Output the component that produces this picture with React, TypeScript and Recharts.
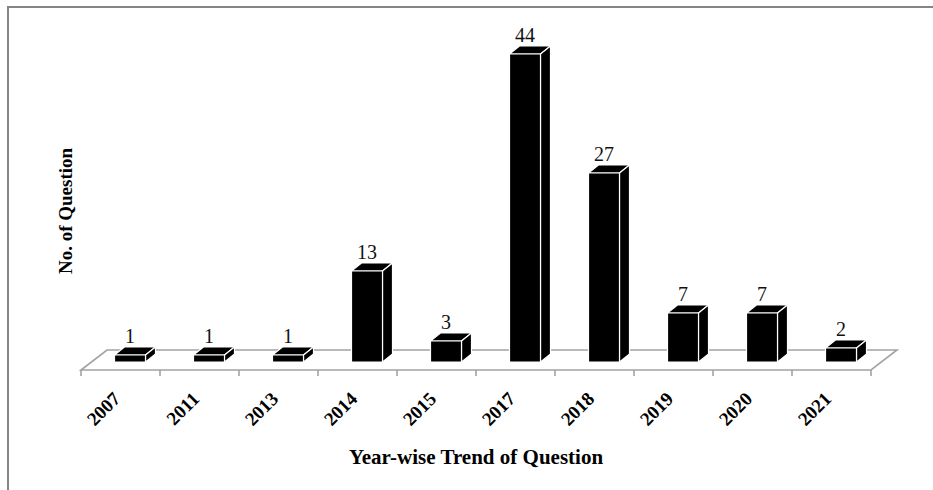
import React from "react";
import {
  BarChart,
  Bar,
  XAxis,
  YAxis,
  LabelList,
  Customized,
  usePlotArea,
} from "recharts";

const years = ["2007", "2011", "2013", "2014", "2015", "2017", "2018", "2019", "2020", "2021"];
const questionCounts = [1, 1, 1, 13, 3, 44, 27, 7, 7, 2];

const xTitle = "Year-wise Trend of Question";
const yTitle = "No. of Question";

const data = years.map((year, i) => ({ year, count: questionCounts[i] }));

const SERIF = '"Liberation Serif", "Times New Roman", serif';
const FLOOR = "#a3a3a3";

// 3D look: depth of each box and shift of the front face inside its band
const DEPTH_X = 10;
const DEPTH_Y = 8;
const FACE_SHIFT = 9.5;

// floor plane sits in front of / behind the bar bases
const FLOOR_FRONT = 8;
const FLOOR_BACK = 12;
const FLOOR_SLANT = 1.3;

const Box3D = (props: any) => {
  const { x, y, width, height } = props;
  const x0 = x + FACE_SHIFT;
  const x1 = x0 + width;
  const y1 = y + height;
  return (
    <g stroke="#ffffff" strokeWidth={1.2} strokeLinejoin="round">
      <polygon
        points={`${x0},${y} ${x0 + DEPTH_X},${y - DEPTH_Y} ${x1 + DEPTH_X},${y - DEPTH_Y} ${x1},${y}`}
        fill="#000"
      />
      <polygon
        points={`${x1},${y} ${x1 + DEPTH_X},${y - DEPTH_Y} ${x1 + DEPTH_X},${y1 - DEPTH_Y} ${x1},${y1}`}
        fill="#000"
      />
      <rect x={x0} y={y} width={width} height={height} fill="#000" />
    </g>
  );
};

const FloorPlane = () => {
  const area = usePlotArea();
  if (!area) return null;
  const left = area.x;
  const right = area.x + area.width;
  const base = area.y + area.height;
  const front = base + FLOOR_FRONT;
  const back = base - FLOOR_BACK;
  const slant = (FLOOR_FRONT + FLOOR_BACK) * FLOOR_SLANT;
  const step = area.width / years.length;
  return (
    <g stroke={FLOOR} strokeWidth={1.6} fill="none">
      <polygon
        points={`${left},${front} ${left + slant},${back} ${right + slant},${back} ${right},${front}`}
        fill="#fff"
      />
      {Array.from({ length: years.length + 1 }, (_, i) => (
        <line key={i} x1={left + i * step} y1={front} x2={left + i * step} y2={front + 6} />
      ))}
    </g>
  );
};

const YearTick = (props: any) => {
  const { x, y, payload } = props;
  const tx = x + 1;
  const ty = y + 30;
  return (
    <text
      x={tx}
      y={ty}
      textAnchor="end"
      transform={`rotate(-45, ${tx}, ${ty})`}
      fontFamily={SERIF}
      fontWeight="bold"
      fontSize={19}
      fill="#000"
    >
      {payload.value}
    </text>
  );
};

const ValueLabel = (props: any) => {
  const { x, y, width, value } = props;
  return (
    <text
      x={x + FACE_SHIFT + width / 2}
      y={y - 12}
      textAnchor="middle"
      fontFamily={SERIF}
      fontSize={20}
      fill="#111"
    >
      {value}
    </text>
  );
};

export default function App() {
  return (
    <div
      style={{
        position: "absolute",
        left: 0,
        top: 0,
        width: 933,
        height: 490,
        background: "#fff",
        overflow: "hidden",
      }}
    >
      <div
        style={{
          position: "absolute",
          left: 7,
          top: 6,
          right: 0,
          bottom: 0,
          borderTop: "2px solid #858585",
          borderLeft: "2px solid #858585",
        }}
      />
      <BarChart
        width={933}
        height={490}
        data={data}
        margin={{ top: 12, right: 62, left: 81, bottom: 68 }}
        barSize={31}
        style={{ position: "absolute", left: 0, top: 0 }}
      >
        <Customized component={FloorPlane} />
        <XAxis
          dataKey="year"
          axisLine={false}
          tickLine={false}
          height={60}
          interval={0}
          tick={<YearTick />}
        />
        <YAxis hide domain={[0, 50]} />
        <Bar dataKey="count" shape={<Box3D />} isAnimationActive={false}>
          <LabelList dataKey="count" content={<ValueLabel />} />
        </Bar>
        <text
          x={476}
          y={464}
          textAnchor="middle"
          fontFamily={SERIF}
          fontWeight="bold"
          fontSize={21}
          fill="#000"
        >
          {xTitle}
        </text>
        <text
          x={72}
          y={211}
          textAnchor="middle"
          transform="rotate(-90, 72, 211)"
          fontFamily={SERIF}
          fontWeight="bold"
          fontSize={19}
          fill="#000"
        >
          {yTitle}
        </text>
      </BarChart>
    </div>
  );
}
